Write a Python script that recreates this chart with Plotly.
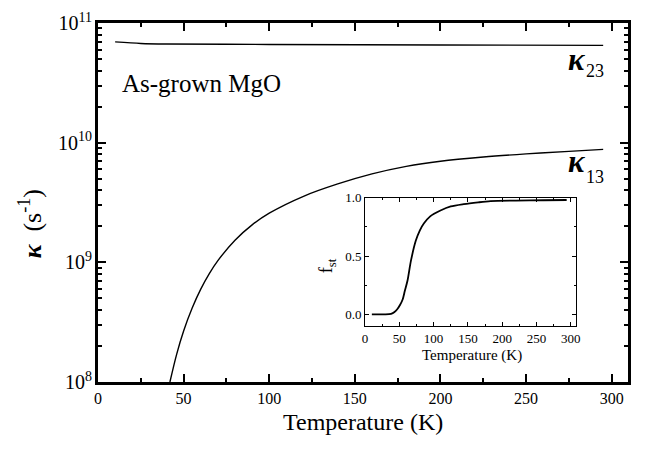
import plotly.graph_objects as go

# kappa_23 (s^-1) vs temperature (K)
T23 = [10, 25, 40, 100, 200, 295]
K23 = [6.95e10, 6.75e10, 6.68e10, 6.62e10, 6.55e10, 6.5e10]

# kappa_13 (s^-1) vs temperature (K)
T13 = [42, 46, 50, 55, 60, 65, 70, 80, 90, 100, 120, 140, 160, 180, 200, 225, 250, 275, 295]
K13 = [1.0e8, 1.72e8, 2.67e8, 4.15e8, 5.97e8, 8.05e8, 1.033e9, 1.531e9, 2.056e9, 2.576e9,
       3.565e9, 4.519e9, 5.483e9, 6.339e9, 6.998e9, 7.586e9, 8.054e9, 8.453e9, 8.79e9]

# inset: f_st vs temperature (K)
TF = [10, 30, 38, 43, 47, 51, 55, 58, 62, 67, 74, 80, 86, 95, 110, 125, 144, 165, 183, 220, 260, 294]
FST = [0, 0, 0.005, 0.02, 0.044, 0.08, 0.13, 0.2, 0.29, 0.46, 0.63, 0.72, 0.78, 0.84,
       0.89, 0.925, 0.945, 0.96, 0.97, 0.975, 0.978, 0.98]

FONT = "Liberation Serif, Times New Roman, DejaVu Serif, serif"
W, H = 647, 452
L, R, T, B = 97.5, 628.5, 10, 382


def px(x):
    return (x - L) / (R - L)


def py(y):
    return (B - y) / (B - T)


fig = go.Figure()
fig.add_trace(go.Scatter(x=T23, y=K23, mode="lines", line=dict(color="black", width=1.4, shape="spline", smoothing=0.8),
                         xaxis="x", yaxis="y", showlegend=False))
fig.add_trace(go.Scatter(x=T13, y=K13, mode="lines", line=dict(color="black", width=1.4, shape="spline", smoothing=1),
                         xaxis="x", yaxis="y", showlegend=False))
fig.add_trace(go.Scatter(x=TF, y=FST, mode="lines", line=dict(color="black", width=1.8, shape="spline", smoothing=0.8),
                         xaxis="x2", yaxis="y2", showlegend=False))

axis_common = dict(showline=True, linecolor="black", mirror="allticks", ticks="inside",
                   tickcolor="black", showgrid=False, zeroline=False)

fig.update_layout(
    width=W, height=H,
    margin=dict(l=L, r=W - R, t=T, b=H - B),
    paper_bgcolor="white", plot_bgcolor="white",
    font=dict(family=FONT, color="black"),
    xaxis=dict(**axis_common, domain=[0, 1], range=[0, 309.5], linewidth=2.5,
               tickmode="linear", tick0=0, dtick=50, ticklen=8, tickwidth=2,
               tickfont=dict(size=16, family=FONT),
               minor=dict(ticks="inside", dtick=25, tick0=0, ticklen=4, tickwidth=2, tickcolor="black")),
    yaxis=dict(**axis_common, type="log", range=[8, 11], linewidth=2.5,
               tickmode="linear", tick0=0, dtick=1, ticklen=8, tickwidth=2,
               exponentformat="power", showexponent="all",
               tickfont=dict(size=16, family=FONT),
               minor=dict(ticks="inside", dtick="D1", ticklen=4, tickwidth=1.5, tickcolor="black")),
    xaxis2=dict(**axis_common, anchor="y2", domain=[px(365), px(576)], range=[0, 307], linewidth=1,
                tickmode="linear", tick0=0, dtick=50, ticklen=4, tickwidth=1,
                tickfont=dict(size=13, family=FONT),
                minor=dict(ticks="inside", dtick=25, tick0=0, ticklen=2, tickwidth=1, tickcolor="black")),
    yaxis2=dict(**axis_common, anchor="x2", domain=[py(324), py(191)], range=[-0.1, 1.0], linewidth=1,
                tickmode="linear", tick0=0, dtick=0.5, ticklen=4, tickwidth=1,
                tickformat=".1f", tickfont=dict(size=13, family=FONT),
                minor=dict(ticks="inside", dtick=0.25, tick0=0, ticklen=2, tickwidth=1, tickcolor="black")),
)

ann = [
    dict(x=px(120), y=py(73), text="As-grown MgO", xanchor="left", yanchor="middle",
         font=dict(size=25, family=FONT)),
    dict(x=px(577), y=py(48), text="<b><i>κ</i></b>", xanchor="center", yanchor="middle",
         font=dict(size=31, family=FONT)),
    dict(x=px(595), y=py(60), text="23", xanchor="center", yanchor="middle",
         font=dict(size=18, family=FONT)),
    dict(x=px(577), y=py(154), text="<b><i>κ</i></b>", xanchor="center", yanchor="middle",
         font=dict(size=31, family=FONT)),
    dict(x=px(595), y=py(170), text="13", xanchor="center", yanchor="middle",
         font=dict(size=18, family=FONT)),
    dict(x=px(363), y=py(423), text="Temperature (K)", xanchor="center", yanchor="middle",
         font=dict(size=24, family=FONT)),
    dict(x=px(30), y=py(218), text="<b><i>κ</i></b>  (s<sup>-1</sup>)", textangle=-90,
         xanchor="center", yanchor="middle", font=dict(size=26, family=FONT)),
    dict(x=px(472), y=py(355), text="Temperature (K)", xanchor="center", yanchor="middle",
         font=dict(size=15, family=FONT)),
    dict(x=px(327), y=py(262), text="f<sub>st</sub>", textangle=-90, xanchor="center", yanchor="middle",
         font=dict(size=18, family=FONT)),
]
for a in ann:
    a.update(xref="paper", yref="paper", showarrow=False)
fig.update_layout(annotations=ann)

fig.write_html("out.html")
